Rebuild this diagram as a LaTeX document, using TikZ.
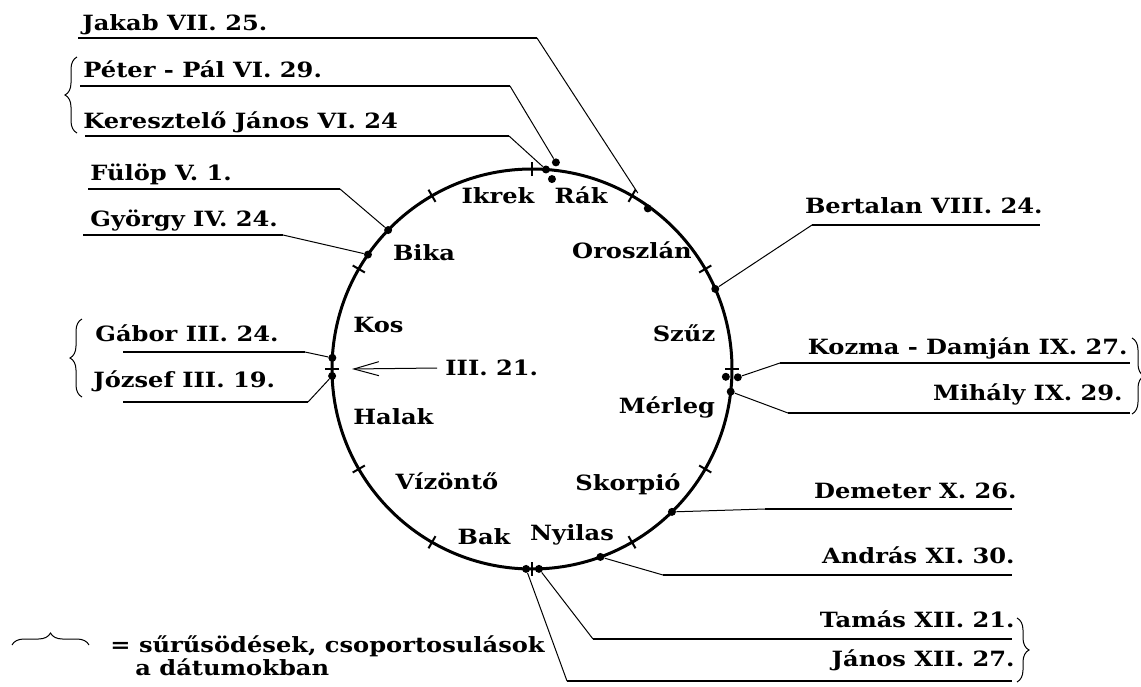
\documentclass[tikz,border=0pt]{standalone}
\usepackage{fontspec}
\setmainfont{DejaVu Serif}[FakeStretch=1.15]
\usepackage{tikz}
\usetikzlibrary{arrows.meta,decorations.pathreplacing}
\usetikzlibrary{positioning}

\tikzset{
  lbl/.style={font=\bfseries\fontsize{10.5}{12}\selectfont, inner sep=0pt},
  dot/.style={circle, fill, inner sep=0pt, minimum size=4pt},
  tick/.style={line width=1pt},
  lead/.style={line width=0.5pt},
  uline/.style={line width=0.9pt},
  brc/.style={line width=0.5pt, decorate, decoration={brace, amplitude=6pt}},
}

\begin{document}
\begin{tikzpicture}[x=0.5pt,y=-0.5pt]
  \useasboundingbox (0,0) rectangle (1141,686);
  \coordinate (c) at (532,369);
  \draw[line width=1.5pt] (c) circle[radius=100pt];
  \foreach \a in {0,30,...,330}
    \draw[tick] ([shift={(\a:96.5pt)}]c) -- ([shift={(\a:103.5pt)}]c);

  \node[lbl, anchor=base] (ikrek) at (498,203) {Ikrek};
  \node[lbl, anchor=base] (rak) at (581,203) {Rák};
  \node[lbl, anchor=base] (oroszlan) at (632,258) {Oroszlán};
  \node[lbl, anchor=base] (bika) at (424,260) {Bika};
  \node[lbl, anchor=base] (szuz) at (684,341) {Szűz};
  \node[lbl, anchor=base west] (kos) at (353,332) {Kos};
  \node[lbl, anchor=base] (merleg) at (667,413) {Mérleg};
  \node[lbl, anchor=base west] (halak) at (353,424) {Halak};
  \node[lbl, anchor=base] (vizonto) at (447,489) {Vízöntő};
  \node[lbl, anchor=base] (skorpio) at (628,490) {Skorpió};
  \node[lbl, anchor=base] (bak) at (484,544) {Bak};
  \node[lbl, anchor=base] (nyilas) at (572,540) {Nyilas};

  \node[lbl, anchor=base west] (tavasz) at (445,375) {III. 21.};
  \coordinate (equinox) at ([shift={(180:90pt)}]c);
  \draw[lead, shorten <=4pt, -{Straight Barb[length=12.5pt, width=7pt]}] (tavasz) -- (equinox);

  \node[dot] (jakab) at ([shift={(54.2:99pt)}]c) {};
  \node[dot] (keresztelo) at ([shift={(86:100pt)}]c) {};
  \node[dot] (peter) at ([shift={(83.4:104pt)}]c) {};
  \node[dot] (pal) at ([shift={(84:95.5pt)}]c) {};
  \node[dot] (fulop) at ([shift={(136:100pt)}]c) {};
  \node[dot] (gyorgy) at ([shift={(145.1:100pt)}]c) {};
  \node[dot] (gabor) at ([shift={(176.8:100pt)}]c) {};
  \node[dot] (jozsef) at ([shift={(182:100pt)}]c) {};
  \node[dot] (bertalan) at ([shift={(23.6:100pt)}]c) {};
  \node[dot] (kozma) at ([shift={(-2.3:103pt)}]c) {};
  \node[dot] (damjan) at ([shift={(-2.3:97pt)}]c) {};
  \node[dot] (mihaly) at ([shift={(-6.5:100pt)}]c) {};
  \node[dot] (demeter) at ([shift={(-45.6:100pt)}]c) {};
  \node[dot] (andras) at ([shift={(-70:100pt)}]c) {};
  \node[dot] (tamas) at ([shift={(-88:100pt)}]c) {};
  \node[dot] (janos) at ([shift={(-91.7:100pt)}]c) {};

  \coordinate (jakabL) at (78,38);
  \coordinate (jakabK) at (537,38);
  \node[lbl, anchor=base west] (jakabtxt) at (82,30) {Jakab VII. 25.};
  \draw[uline] (jakabL) -- (jakabK);
  \draw[lead, shorten >=7pt] (jakabK) -- (jakab);

  \coordinate (peterL) at (80,86);
  \coordinate (peterK) at (510,86);
  \node[lbl, anchor=base west] (petertxt) at (83,77) {Péter - Pál VI. 29.};
  \draw[uline] (peterL) -- (peterK);
  \draw[lead] (peterK) -- (peter);

  \coordinate (keresztL) at (85,136);
  \coordinate (keresztK) at (509,136);
  \node[lbl, anchor=base west] (kereszttxt) at (83,128) {Keresztelő János VI. 24};
  \draw[uline] (keresztL) -- (keresztK);
  \draw[lead] (keresztK) -- (keresztelo);

  \coordinate (fulopL) at (88,189);
  \coordinate (fulopK) at (340,189);
  \node[lbl, anchor=base west] (foloptxt) at (90,180) {Fülöp V. 1.};
  \draw[uline] (fulopL) -- (fulopK);
  \draw[lead] (fulopK) -- (fulop);

  \coordinate (gyorgyL) at (83,235);
  \coordinate (gyorgyK) at (283,235);
  \node[lbl, anchor=base west] (gyorgytxt) at (90,226) {György IV. 24.};
  \draw[uline] (gyorgyL) -- (gyorgyK);
  \draw[lead] (gyorgyK) -- (gyorgy);

  \coordinate (gaborL) at (123,352);
  \coordinate (gaborK) at (305,352);
  \node[lbl, anchor=base west] (gabortxt) at (95,341) {Gábor III. 24.};
  \draw[uline] (gaborL) -- (gaborK);
  \draw[lead] (gaborK) -- (gabor);

  \coordinate (jozsefL) at (123,402);
  \coordinate (jozsefK) at (308,402);
  \node[lbl, anchor=base west] (jozseftxt) at (93,387) {József III. 19.};
  \draw[uline] (jozsefL) -- (jozsefK);
  \draw[lead] (jozsefK) -- (jozsef);

  \coordinate (bertK) at (812,225);
  \coordinate (bertR) at (1040,225);
  \node[lbl, anchor=base east] (berttxt) at (1043,213) {Bertalan VIII. 24.};
  \draw[uline] (bertK) -- (bertR);
  \draw[lead] (bertalan) -- (bertK);

  \coordinate (kozmaK) at (780,363);
  \coordinate (kozmaR) at (1130,363);
  \node[lbl, anchor=base east] (kozmatxt) at (1128,354) {Kozma - Damján IX. 27.};
  \draw[uline] (kozmaK) -- (kozmaR);
  \draw[lead] (kozma) -- (kozmaK);

  \coordinate (mihalyK) at (788,413);
  \coordinate (mihalyR) at (1130,413);
  \node[lbl, anchor=base east] (mihalytxt) at (1123,400) {Mihály IX. 29.};
  \draw[uline] (mihalyK) -- (mihalyR);
  \draw[lead] (mihaly) -- (mihalyK);

  \coordinate (demeterK) at (765,509);
  \coordinate (demeterR) at (1012,509);
  \node[lbl, anchor=base east] (demetertxt) at (1017,498) {Demeter X. 26.};
  \draw[uline] (demeterK) -- (demeterR);
  \draw[lead] (demeter) -- (demeterK);

  \coordinate (andrasK) at (663,575);
  \coordinate (andrasR) at (1012,575);
  \node[lbl, anchor=base east] (andrastxt) at (1015,563) {András XI. 30.};
  \draw[uline] (andrasK) -- (andrasR);
  \draw[lead] (andras) -- (andrasK);

  \coordinate (tamasK) at (593,639);
  \coordinate (tamasR) at (1012,639);
  \node[lbl, anchor=base east] (tamastxt) at (1015,627) {Tamás XII. 21.};
  \draw[uline] (tamasK) -- (tamasR);
  \draw[lead] (tamas) -- (tamasK);

  \coordinate (janosK) at (567,681);
  \coordinate (janosR) at (1012,681);
  \node[lbl, anchor=base east] (janostxt) at (1015,666) {János XII. 27.};
  \draw[uline] (janosK) -- (janosR);
  \draw[lead] (janos) -- (janosK);

  \draw[brc] (77,133) -- (77,57);
  \draw[brc] (82,397) -- (82,319);
  \draw[brc] (1132,338) -- (1132,414);
  \draw[brc] (1017,618) -- (1017,682);
  \draw[brc] (12,645) -- (89,645);

  \node[lbl, anchor=base west] (jelmagy) at (110,652) {= sűrűsödések, csoportosulások};
  \node[lbl, anchor=base west] (jelmagy2) at (135,675) {a dátumokban};
\end{tikzpicture}
\end{document}
